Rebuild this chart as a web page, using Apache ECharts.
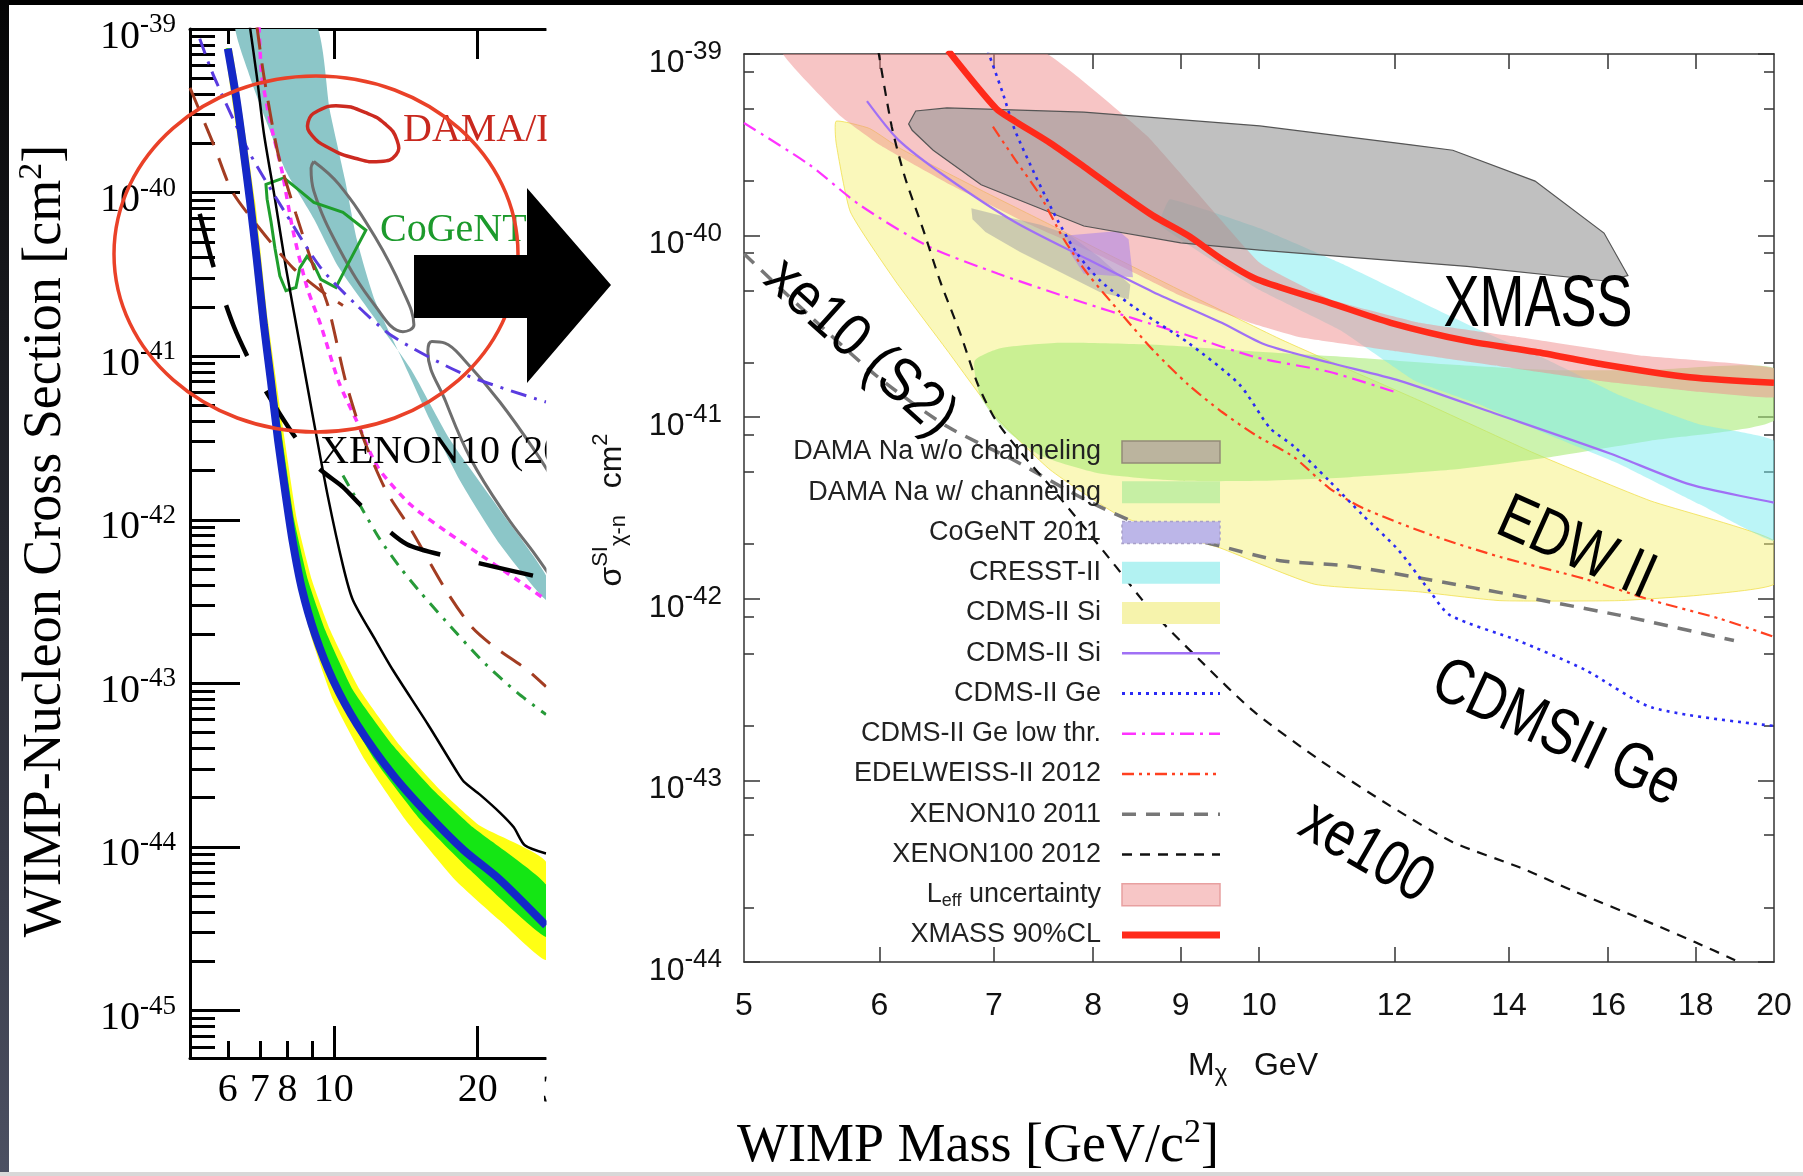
<!DOCTYPE html>
<html>
<head>
<meta charset="utf-8">
<script src="https://cdn.jsdelivr.net/npm/echarts@6/dist/echarts.min.js"></script>
<style>
html,body{margin:0;padding:0;background:#fff;}
#c{width:1803px;height:1176px;}
</style>
</head>
<body>
<div id="c"></div>
<script>
const LOG = Math.log10;

/* ================= LEFT PANEL (XENON100 2012 excerpt) =================
   points are [WIMP mass in GeV, log10(cross section / cm^2)] */
const leftMassRange = [5, 27.8];
const leftLogSigmaRange = [-45.29, -39];
const leftMassLabels = [6, 7, 8, 10, 20];
const leftMassMajorTicks = [10, 20];
const leftMassMinorTicks = [6, 7, 8, 9];
const leftDecades = [-45, -44, -43, -42, -41, -40, -39];

const x100Limit = [[6.0,-39.12],[6.24,-39.41],[6.45,-39.71],[6.67,-40.04],[6.90,-40.41],[7.14,-40.81],[7.39,-41.16],[7.64,-41.51],[7.94,-41.86],[8.21,-42.14],[8.57,-42.42],[9.13,-42.70],[9.96,-42.98],[11.18,-43.25],[13.30,-43.56],[15.73,-43.80],[18.71,-44.02],[22.26,-44.20],[27.8,-44.48]];
const x100Band2Upper = [[6.12,-39.12],[6.84,-40.05],[7.28,-40.78],[7.79,-41.40],[8.37,-42.0],[9.0,-42.37],[9.81,-42.67],[11.34,-43.04],[13.75,-43.38],[16.67,-43.65],[20.22,-43.87],[27.8,-44.09]];
const x100Band1Upper = [[6.06,-39.12],[6.78,-40.05],[7.21,-40.78],[7.71,-41.40],[8.26,-42.0],[8.83,-42.37],[9.58,-42.67],[10.96,-43.04],[13.30,-43.38],[16.12,-43.65],[19.55,-43.88],[27.8,-44.23]];
const x100Band1Lower = [[5.95,-39.12],[6.64,-40.05],[7.07,-40.78],[7.57,-41.40],[8.09,-42.0],[8.49,-42.37],[9.17,-42.73],[10.30,-43.10],[12.19,-43.47],[15.14,-43.83],[19.26,-44.14],[27.8,-44.55]];
const x100Band2Lower = [[5.92,-39.12],[6.58,-40.05],[7.0,-40.78],[7.46,-41.40],[7.98,-42.0],[8.37,-42.37],[9.0,-42.73],[9.96,-43.10],[11.62,-43.47],[14.09,-43.83],[17.92,-44.20],[22.26,-44.45],[27.8,-44.69]];
const x100Limit2011 = [[6.67,-38.98],[6.90,-39.29],[7.14,-39.64],[7.53,-40.04],[7.94,-40.46],[8.49,-40.93],[9.08,-41.40],[9.72,-41.86],[10.45,-42.28],[10.96,-42.49],[12.19,-42.73],[13.30,-42.92],[15.73,-43.25],[18.10,-43.54],[18.71,-43.60],[20.22,-43.68],[22.26,-43.79],[23.8,-43.88],[25.1,-43.99],[27.8,-44.04]];
const tealRegion = [[6.24,-38.95],[6.67,-39.29],[7.28,-39.59],[7.94,-39.87],[9.08,-40.16],[10.25,-40.46],[12.19,-40.77],[14.5,-41.08],[17.5,-41.51],[22.26,-41.94],[27.8,-42.34],[27.8,-42.49],[22.26,-42.15],[18.36,-41.76],[15.89,-41.39],[13.75,-40.99],[12.19,-40.66],[11.18,-40.29],[10.55,-39.92],[9.81,-39.50],[9.08,-38.95]];
const magentaLeft = [[6.97,-38.98],[7.07,-39.29],[7.39,-39.59],[7.79,-39.87],[8.21,-40.23],[8.79,-40.58],[9.39,-40.81],[10.25,-41.16],[11.18,-41.40],[12.37,-41.68],[14.5,-41.91],[17.16,-42.07],[20.41,-42.22],[24.28,-42.37],[27.8,-42.49]];
const brownLeftA = [[5.0,-39.36],[5.61,-39.71],[6.12,-39.99],[7.04,-40.23],[8.21,-40.46],[9.39,-40.60],[10.45,-40.69]];
const brownLeftB = [[6.90,-38.98],[7.14,-39.29],[7.64,-39.76],[8.33,-40.13],[9.08,-40.46],[9.72,-40.69],[10.6,-41.16],[11.56,-41.51],[12.85,-41.82],[14.5,-42.06],[17.16,-42.43],[19.36,-42.65],[21.52,-42.77],[25.47,-42.92],[27.8,-43.02]];
const purpleLeft = [[5.24,-39.06],[5.61,-39.29],[6.67,-39.76],[7.94,-40.13],[9.39,-40.46],[11.18,-40.69],[13.30,-40.88],[18.71,-41.11],[27.8,-41.28]];
const greenDashLeft = [[10.45,-41.73],[11.34,-41.91],[12.49,-42.12],[13.75,-42.29],[15.14,-42.44],[17.16,-42.62],[20.41,-42.86],[24.28,-43.06],[27.8,-43.19]];
const xenon10Left = [[5.24,-40.13],[5.61,-40.46],[6.18,-40.82],[6.97,-41.14],[8.06,-41.44],[9.27,-41.68],[10.45,-41.80],[11.56,-41.93],[14.22,-42.15],[18.36,-42.24],[19.74,-42.26],[27.8,-42.36]];
const cresstContourA = [[9.08,-39.81],[10.25,-39.95],[12.19,-40.27],[13.95,-40.60],[14.71,-40.81],[13.95,-40.85],[12.19,-40.69],[10.25,-40.34],[9.08,-39.99],[8.96,-39.85],[9.08,-39.81]];
const cresstContourB = [[29.7,-42.43],[26.5,-42.22],[23.0,-41.98],[19.36,-41.63],[17.16,-41.28],[15.73,-40.97],[16.04,-40.91],[17.08,-40.92],[18.71,-41.02],[22.26,-41.28],[26.5,-41.59],[29.7,-41.82]];
const damaContourLeft = [[8.83,-39.57],[9.27,-39.50],[10.30,-39.47],[11.62,-39.51],[12.8,-39.58],[13.56,-39.68],[13.49,-39.77],[12.49,-39.81],[11.07,-39.79],[9.81,-39.73],[9.0,-39.65]];
const cogentContourLeft = [[7.21,-39.95],[7.86,-39.91],[8.33,-39.97],[9.08,-40.06],[10.45,-40.12],[11.67,-40.23],[10.6,-40.46],[10.1,-40.58],[9.39,-40.53],[9.08,-40.44],[8.79,-40.39],[8.49,-40.46],[8.33,-40.58],[7.94,-40.60],[7.71,-40.51],[7.53,-40.34],[7.39,-40.18],[7.25,-40.04]];

/* ================= RIGHT PANEL (XMASS low-mass WIMP search) ================= */
const rightMassRange = [5, 20];
const rightLogSigmaRange = [-44, -39];
const rightMassLabels = [5, 6, 7, 8, 9, 10, 12, 14, 16, 18, 20];
const rightMassTicks = [6, 7, 8, 9, 10, 12, 14, 16, 18];
const rightDecades = [-44, -43, -42, -41, -40, -39];
const rightMinorMantissas = [2, 5, 8];

const leffBand = [[7.45,-38.98],[8.6,-39.45],[10.01,-40.15],[11.0,-40.35],[12.42,-40.48],[14.21,-40.56],[16.7,-40.66],[20,-40.73],[20,-40.89],[18.1,-40.86],[15.82,-40.80],[13.83,-40.72],[12.09,-40.64],[10.57,-40.56],[9.88,-40.48],[8.99,-40.33],[8.07,-40.11],[7.35,-39.94],[6.6,-39.72],[6.0,-39.50],[5.69,-39.34],[5.26,-38.98]];
const damaNoChanRegion = [[6.24,-39.385],[6.30,-39.314],[6.57,-39.297],[7.90,-39.32],[10.01,-39.396],[12.27,-39.50],[12.98,-39.53],[14.5,-39.70],[15.91,-39.986],[16.43,-40.22],[15.95,-40.25],[13.23,-40.17],[10.01,-40.08],[9.0,-40.04],[7.9,-39.947],[6.88,-39.72],[6.45,-39.53],[6.27,-39.42]];
const damaChanRegion = [[6.82,-40.69],[7.06,-40.62],[7.65,-40.59],[8.64,-40.60],[10.0,-40.64],[11.3,-40.67],[12.93,-40.71],[14.79,-40.74],[16.93,-40.74],[20,-40.73],[20,-41.02],[16.93,-41.13],[14.79,-41.22],[12.93,-41.29],[11.3,-41.33],[10.0,-41.35],[8.99,-41.35],[8.07,-41.31],[7.45,-41.21],[7.06,-41.04],[6.87,-40.88]];
const cresstRegion = [[8.87,-39.80],[10.01,-39.96],[11.15,-40.15],[12.34,-40.35],[13.46,-40.52],[14.79,-40.69],[16.26,-40.88],[18.1,-41.04],[20,-41.13],[20,-41.68],[18.1,-41.48],[16.26,-41.26],[14.79,-41.10],[13.46,-40.93],[12.34,-40.80],[11.15,-40.52],[10.01,-40.30],[8.75,-39.94]];
const cdmsSiRegion = [[5.66,-39.37],[5.92,-39.41],[6.17,-39.52],[6.88,-39.75],[7.55,-39.94],[8.07,-40.08],[8.99,-40.30],[10.29,-40.57],[11.3,-40.74],[12.42,-40.91],[14.5,-41.20],[16.93,-41.46],[20,-41.68],[20,-41.92],[18.1,-41.98],[16.23,-42.01],[13.83,-42.01],[12.35,-41.96],[10.78,-41.92],[9.49,-41.72],[9.09,-41.67],[8.28,-41.54],[7.55,-41.29],[7.04,-41.01],[6.57,-40.63],[6.13,-40.25],[5.77,-39.87],[5.66,-39.49]];
const cogentRegion = [[7.72,-40.0],[8.28,-39.975],[8.39,-40.02],[8.44,-40.23],[7.9,-40.21],[7.76,-40.10]];
const cogentGrayRegion = [[6.79,-39.85],[7.06,-39.89],[7.45,-39.94],[7.76,-40.0],[8.07,-40.12],[8.41,-40.27],[8.39,-40.35],[8.07,-40.31],[7.65,-40.20],[7.25,-40.09],[6.92,-39.98],[6.80,-39.91]];
const cdmsSiLimit = [[5.90,-39.26],[6.15,-39.47],[6.57,-39.68],[7.2,-39.925],[7.9,-40.12],[8.67,-40.31],[9.51,-40.48],[10.08,-40.60],[11.0,-40.70],[12.09,-40.80],[13.74,-40.98],[16.04,-41.20],[17.86,-41.37],[20,-41.47]];
const cdmsGeLimit = [[6.94,-38.98],[7.08,-39.21],[7.2,-39.42],[7.41,-39.68],[7.62,-39.91],[7.83,-40.10],[8.08,-40.25],[8.47,-40.40],[9.09,-40.59],[9.74,-40.82],[10.15,-41.06],[10.48,-41.16],[10.99,-41.35],[11.5,-41.54],[12.06,-41.73],[12.59,-41.96],[12.93,-42.09],[14.17,-42.23],[15.5,-42.39],[16.99,-42.60],[20,-42.70]];
const cdmsGeLowThr = [[5.0,-39.38],[5.46,-39.61],[5.84,-39.83],[6.41,-40.06],[7.04,-40.21],[7.9,-40.37],[8.47,-40.46],[9.09,-40.55],[9.96,-40.67],[10.99,-40.75],[12.0,-40.86]];
const edelweissLimit = [[6.99,-39.40],[7.2,-39.58],[7.45,-39.78],[7.69,-40.02],[7.94,-40.21],[8.29,-40.42],[8.67,-40.63],[9.09,-40.82],[9.51,-40.97],[9.96,-41.10],[10.48,-41.22],[10.99,-41.39],[11.5,-41.50],[12.62,-41.65],[13.84,-41.77],[15.5,-41.89],[16.99,-42.01],[18.6,-42.11],[20,-42.21]];
const xenon10Limit = [[5.0,-40.10],[5.46,-40.44],[5.99,-40.78],[6.57,-41.05],[7.2,-41.24],[7.9,-41.45],[8.67,-41.62],[9.4,-41.70],[10.29,-41.79],[11.29,-41.82],[13.54,-41.95],[16.23,-42.09],[18.95,-42.23]];
const xenon100Limit = [[5.99,-38.98],[6.10,-39.40],[6.21,-39.68],[6.36,-39.96],[6.51,-40.25],[6.69,-40.54],[6.85,-40.82],[7.01,-41.01],[7.25,-41.19],[7.55,-41.38],[7.91,-41.61],[8.26,-41.83],[8.64,-42.06],[9.24,-42.34],[9.93,-42.62],[10.86,-42.89],[11.93,-43.14],[12.98,-43.34],[14.21,-43.48],[15.28,-43.61],[16.99,-43.79],[17.98,-43.89],[18.98,-43.99]];
const xmassLimit = [[6.58,-38.98],[7.02,-39.30],[7.2,-39.37],[7.55,-39.49],[7.9,-39.62],[8.28,-39.76],[8.67,-39.89],[9.09,-40.0],[9.51,-40.13],[9.97,-40.24],[11.0,-40.37],[11.94,-40.48],[13.23,-40.58],[14.5,-40.64],[15.9,-40.71],[17.86,-40.78],[20,-40.81]];

/* ================= helpers ================= */
const SERIF = 'Liberation Serif';
const SANS = 'Liberation Sans';
const toXY = pts => pts.map(p => [LOG(p[0]), p[1]]);
const rev = a => a.slice().reverse();

function lineS(pts, axes, color, width, dash, z, smooth) {
  return {
    type: 'line', xAxisIndex: axes[0], yAxisIndex: axes[1], data: toXY(pts),
    showSymbol: false, symbol: 'none', smooth: smooth === undefined ? 0.25 : smooth,
    lineStyle: { color: color, width: width, type: dash || 'solid', cap: 'butt' },
    z: z || 3, silent: true, clip: true
  };
}
function polyS(pts, axes, style, z, smooth) {
  const data = toXY(pts);
  return {
    type: 'custom', xAxisIndex: axes[0], yAxisIndex: axes[1], data: data, clip: true,
    z: z || 1, silent: true,
    renderItem: function (params, api) {
      if (params.dataIndex !== 0) return;
      return {
        type: 'polygon',
        shape: { points: data.map(d => api.coord(d)), smooth: smooth || 0 },
        style: style
      };
    }
  };
}
const L = [0, 0];   // left grid axes
const R = [4, 2];   // right grid axes

function minorLogTicks(mants, lo, hi) {
  const out = [];
  for (let n = Math.floor(lo) - 1; n <= Math.ceil(hi); n++)
    mants.forEach(k => { const v = n + LOG(k); if (v > lo && v < hi) out.push(v); });
  return out;
}
const decadeFmt = v => '{b|10}{s|' + Math.round(v) + '}';
const massFmt = v => String(Math.round(Math.pow(10, v)));

function xAx(grid, pos, range, ticks, tickLen, lineOpt, labelOpt) {
  return {
    gridIndex: grid, type: 'value', position: pos, min: LOG(range[0]), max: LOG(range[1]),
    axisLine: lineOpt ? { show: true, onZero: false, lineStyle: lineOpt } : { show: false, onZero: false },
    axisTick: { show: true, inside: true, length: tickLen, customValues: ticks.map(LOG),
      lineStyle: { color: grid === 0 ? '#000' : '#333', width: grid === 0 ? 3 : 1.5 } },
    axisLabel: labelOpt || { show: false },
    splitLine: { show: false }
  };
}
function yAx(grid, pos, range, ticks, tickLen, lineOpt, labelOpt) {
  return {
    gridIndex: grid, type: 'value', position: pos, min: range[0], max: range[1],
    axisLine: lineOpt ? { show: true, onZero: false, lineStyle: lineOpt } : { show: false, onZero: false },
    axisTick: { show: true, inside: true, length: tickLen, customValues: ticks,
      lineStyle: { color: grid === 0 ? '#000' : '#333', width: grid === 0 ? 3 : 1.5 } },
    axisLabel: labelOpt || { show: false },
    splitLine: { show: false }
  };
}

const leftLine = { color: '#000', width: 3 };
const rightLine = { color: '#333', width: 1.5 };

const xAxis = [
  xAx(0, 'bottom', leftMassRange, leftMassMajorTicks, 32, leftLine, {
    show: true, customValues: leftMassLabels.map(LOG), formatter: massFmt,
    fontFamily: SERIF, fontSize: 40, color: '#000', margin: 12 }),
  xAx(0, 'bottom', leftMassRange, leftMassMinorTicks, 17, null),
  xAx(0, 'top', leftMassRange, leftMassMajorTicks, 30, leftLine),
  xAx(0, 'top', leftMassRange, leftMassMinorTicks, 15, null),
  xAx(1, 'bottom', rightMassRange, rightMassTicks, 15, rightLine, {
    show: true, customValues: rightMassLabels.map(LOG), formatter: massFmt,
    fontFamily: SANS, fontSize: 32, color: '#111', margin: 28 }),
  xAx(1, 'top', rightMassRange, rightMassTicks, 15, rightLine)
];
const yAxis = [
  yAx(0, 'left', leftLogSigmaRange, leftDecades, 50, leftLine, {
    show: true, customValues: leftDecades, formatter: decadeFmt, margin: 14,
    rich: { b: { fontFamily: SERIF, fontSize: 40, color: '#000', padding: [16, 0, 0, 0] },
            s: { fontFamily: SERIF, fontSize: 27, color: '#000', padding: [0, 0, 8, 0] } } }),
  yAx(0, 'left', leftLogSigmaRange, minorLogTicks([2,3,4,5,6,7,8,9], leftLogSigmaRange[0], leftLogSigmaRange[1]), 25, null),
  yAx(1, 'left', rightLogSigmaRange, rightDecades, 16, rightLine, {
    show: true, customValues: rightDecades, formatter: decadeFmt, margin: 22,
    rich: { b: { fontFamily: SANS, fontSize: 32, color: '#111', padding: [18, 0, 0, 0] },
            s: { fontFamily: SANS, fontSize: 26, color: '#111', padding: [0, 0, 4, 0] } } }),
  yAx(1, 'left', rightLogSigmaRange, minorLogTicks(rightMinorMantissas, -44, -39), 10, null),
  yAx(1, 'right', rightLogSigmaRange, rightDecades, 16, rightLine),
  yAx(1, 'right', rightLogSigmaRange, minorLogTicks(rightMinorMantissas, -44, -39), 10, null)
];

const series = [
  /* left panel */
  polyS(tealRegion, L, { fill: '#8cc6c8' }, 1, 0.2),
  polyS(x100Band2Upper.concat(rev(x100Band2Lower)), L, { fill: '#ffff14' }, 2, 0.15),
  polyS(x100Band1Upper.concat(rev(x100Band1Lower)), L, { fill: '#14e614' }, 2, 0.15),
  lineS(cresstContourA, L, '#6e6e6e', 3, 'solid', 3, 0.4),
  lineS(cresstContourB, L, '#6e6e6e', 3, 'solid', 3, 0.4),
  lineS(x100Limit2011, L, '#000', 2.5, 'solid', 4),
  lineS(magentaLeft, L, '#ff33ff', 3.5, [7, 6], 4),
  lineS(brownLeftA, L, '#a33d22', 3, [24, 14], 4),
  lineS(brownLeftB, L, '#a33d22', 3, [24, 14], 4),
  lineS(purpleLeft, L, '#5a3be0', 3, [16, 8, 3, 8], 4),
  lineS(greenDashLeft, L, '#279a38', 3, [12, 8, 3, 8], 4),
  lineS(xenon10Left, L, '#000', 4.5, [55, 40], 4),
  polyS(damaContourLeft, L, { fill: 'none', stroke: '#cc2a20', lineWidth: 3.5 }, 4, 0.5),
  polyS(cogentContourLeft, L, { fill: 'none', stroke: '#1f9e2c', lineWidth: 3 }, 4, 0),
  lineS(x100Limit, L, '#1428c8', 8, 'solid', 5),

  /* right panel */
  polyS(cdmsSiRegion, R, { fill: 'rgba(246,242,120,0.5)', stroke: 'rgba(240,220,60,0.7)', lineWidth: 1 }, 1, 0.15),
  polyS(damaChanRegion, R, { fill: 'rgba(170,235,120,0.6)' }, 1, 0.2),
  polyS(cresstRegion, R, { fill: 'rgba(120,235,240,0.5)' }, 1, 0.1),
  polyS(leffBand, R, { fill: 'rgba(240,140,140,0.5)' }, 1, 0.1),
  polyS(cogentGrayRegion, R, { fill: 'rgba(165,165,165,0.55)' }, 1, 0),
  polyS(cogentRegion, R, { fill: 'rgba(175,135,230,0.6)' }, 1, 0),
  polyS(damaNoChanRegion, R, { fill: 'rgba(150,150,150,0.6)', stroke: '#555', lineWidth: 1.2 }, 2, 0),
  lineS(cdmsSiLimit, R, '#a070f5', 2.2, 'solid', 3),
  lineS(cdmsGeLowThr, R, '#ff33ff', 2.2, [14, 6, 3, 6], 3),
  lineS(xenon10Limit, R, '#777', 3.5, [14, 10], 3),
  lineS(xenon100Limit, R, '#111', 2.2, [10, 8], 3),
  lineS(edelweissLimit, R, '#ff4020', 2.2, [12, 5, 3, 5, 3, 5], 3),
  lineS(cdmsGeLimit, R, '#2a2af5', 2.6, [3, 5], 3),
  lineS(xmassLimit, R, '#ff2a1a', 6.5, 'solid', 5)
];

/* ================= legend & annotations (graphic) ================= */
const legendItems = [
  { text: 'DAMA Na w/o channeling', kind: 'rect', fill: '#bbb49e', stroke: '#948a78' },
  { text: 'DAMA Na w/ channeling', kind: 'rect', fill: '#c6efa4' },
  { text: 'CoGeNT 2011', kind: 'rect', fill: '#bcb6e8', stroke: '#a8a0c8', dash: [3, 3] },
  { text: 'CRESST-II', kind: 'rect', fill: '#b2f2f2' },
  { text: 'CDMS-II Si', kind: 'rect', fill: '#f6f3ac' },
  { text: 'CDMS-II Si', kind: 'line', color: '#a070f5', width: 2.5 },
  { text: 'CDMS-II Ge', kind: 'line', color: '#2a2af5', width: 3, dash: [3, 5] },
  { text: 'CDMS-II Ge low thr.', kind: 'line', color: '#ff33ff', width: 2.5, dash: [14, 6, 3, 6] },
  { text: 'EDELWEISS-II 2012', kind: 'line', color: '#ff4020', width: 2.5, dash: [12, 5, 3, 5, 3, 5] },
  { text: 'XENON10 2011', kind: 'line', color: '#777', width: 3.5, dash: [14, 10] },
  { text: 'XENON100 2012', kind: 'line', color: '#111', width: 2.5, dash: [10, 8] },
  { text: '{n|L}{e|eff}{n| uncertainty}', kind: 'rect', fill: '#f7c6c6', stroke: '#e8a0a0' },
  { text: 'XMASS 90%CL', kind: 'line', color: '#ff2a1a', width: 7 }
];
const graphics = [];
const LEG_X = 1101, SW_X = 1122, SW_W = 98, LEG_Y0 = 452, LEG_DY = 40.25;
legendItems.forEach((it, i) => {
  const y = LEG_Y0 + i * LEG_DY;
  graphics.push({ type: 'text', x: LEG_X, y: y, z: 100, silent: true,
    style: { text: it.text, fontFamily: SANS, fontSize: 27, fill: '#222', align: 'right', verticalAlign: 'middle',
      rich: { n: { fontFamily: SANS, fontSize: 27, fill: '#222' }, e: { fontFamily: SANS, fontSize: 18, fill: '#222', padding: [12, 0, 0, 0] } } } });
  if (it.kind === 'rect') {
    graphics.push({ type: 'rect', z: 100, silent: true, shape: { x: SW_X, y: y - 11, width: SW_W, height: 22 },
      style: { fill: it.fill, stroke: it.stroke || null, lineWidth: it.stroke ? 1.5 : 0, lineDash: it.dash || null } });
  } else {
    graphics.push({ type: 'line', z: 100, silent: true, shape: { x1: SW_X, y1: y, x2: SW_X + SW_W, y2: y },
      style: { stroke: it.color, lineWidth: it.width, lineDash: it.dash || null } });
  }
});

const annotations = [
  { text: 'xe10 (S2)', x: 860, y: 348, rot: -42, size: 54, sy: 1.12 },
  { text: 'XMASS', x: 1538, y: 306, rot: 0, size: 54, sy: 1.35 },
  { text: 'EDW II', x: 1576, y: 549, rot: -24, size: 52, sy: 1.25 },
  { text: 'CDMSII Ge', x: 1556, y: 734, rot: -25, size: 52, sy: 1.25 },
  { text: 'xe100', x: 1366, y: 853, rot: -30, size: 52, sy: 1.25 }
];
annotations.forEach(a => graphics.push({
  type: 'text', x: a.x, y: a.y, rotation: a.rot * Math.PI / 180, scaleY: a.sy, z: 100, silent: true,
  style: { text: a.text, fontFamily: SANS, fontSize: a.size, fill: '#000', align: 'center', verticalAlign: 'middle' }
}));

// right panel axis titles
graphics.push({ type: 'text', x: 612, y: 510, rotation: Math.PI / 2, z: 100, silent: true,
  style: { text: '{a|σ}{sp|SI}{sb|χ-n}{a|   cm}{sp|2}', align: 'center', verticalAlign: 'middle',
    rich: { a: { fontFamily: SANS, fontSize: 32, fill: '#111' },
            sp: { fontFamily: SANS, fontSize: 22, fill: '#111', padding: [0, 0, 22, 0] },
            sb: { fontFamily: SANS, fontSize: 22, fill: '#111', padding: [14, 0, 0, 0] } } } });
graphics.push({ type: 'text', x: 1253, y: 1066, z: 100, silent: true,
  style: { text: '{a|M}{sb|χ}{a|   GeV}', align: 'center', verticalAlign: 'middle',
    rich: { a: { fontFamily: SANS, fontSize: 32, fill: '#111' },
            sb: { fontFamily: SANS, fontSize: 24, fill: '#111', padding: [16, 0, 0, 0] } } } });

// left panel labels (cut off by the crop of the excerpt)
graphics.push({ type: 'text', x: 403, y: 130, z: 80, silent: true,
  style: { text: 'DAMA/L', fontFamily: SERIF, fontSize: 40, fill: '#c8281e', align: 'left', verticalAlign: 'middle' } });
graphics.push({ type: 'text', x: 380, y: 230, z: 80, silent: true,
  style: { text: 'CoGeNT', fontFamily: SERIF, fontSize: 40, fill: '#1c9a2c', align: 'left', verticalAlign: 'middle' } });
graphics.push({ type: 'text', x: 320, y: 452, z: 80, silent: true,
  style: { text: 'XENON10 (20', fontFamily: SERIF, fontSize: 40, fill: '#000', align: 'left', verticalAlign: 'middle' } });
graphics.push({ type: 'text', x: 562, y: 1091, z: 80, silent: true,
  style: { text: '30', fontFamily: SERIF, fontSize: 40, fill: '#000', align: 'center', verticalAlign: 'middle' } });
// crop mask of the left excerpt
graphics.push({ type: 'rect', z: 90, silent: true, shape: { x: 546.5, y: 5, width: 42, height: 1167 }, style: { fill: '#fff' } });

// big red annotation ellipse and arrow
graphics.push({ type: 'ellipse', z: 100, silent: true, shape: { cx: 316, cy: 254, rx: 202, ry: 178 },
  style: { fill: 'none', stroke: '#ea4128', lineWidth: 3.5 } });
graphics.push({ type: 'polygon', z: 100, silent: true,
  shape: { points: [[414, 255], [527, 255], [527, 188], [611, 285], [527, 383], [527, 318], [414, 318]] },
  style: { fill: '#000' } });

// slide titles
graphics.push({ type: 'text', x: 46, y: 541, rotation: Math.PI / 2, z: 100, silent: true,
  style: { text: 'WIMP-Nucleon Cross Section [cm{sp|2}]', fontFamily: SERIF, fontSize: 54, fill: '#000',
    align: 'center', verticalAlign: 'middle',
    rich: { sp: { fontFamily: SERIF, fontSize: 34, fill: '#000', padding: [0, 0, 28, 0] } } } });
graphics.push({ type: 'text', x: 978, y: 1147, z: 100, silent: true,
  style: { text: 'WIMP Mass [GeV/c{sp|2}]', fontFamily: SERIF, fontSize: 54, fill: '#000',
    align: 'center', verticalAlign: 'middle',
    rich: { sp: { fontFamily: SERIF, fontSize: 34, fill: '#000', padding: [0, 0, 28, 0] } } } });

// slide frame
graphics.push({ type: 'rect', z: 200, silent: true, shape: { x: 0, y: 0, width: 1803, height: 5 }, style: { fill: '#000' } });
graphics.push({ type: 'rect', z: 200, silent: true, shape: { x: 0, y: 0, width: 9, height: 1176 },
  style: { fill: new echarts.graphic.LinearGradient(0, 0, 0, 1, [{ offset: 0, color: '#050505' }, { offset: 1, color: '#4c5062' }]) } });
graphics.push({ type: 'rect', z: 200, silent: true, shape: { x: 0, y: 1172, width: 1803, height: 4 }, style: { fill: '#d8d8d8' } });

const chart = echarts.init(document.getElementById('c'), null, { renderer: 'canvas' });
chart.setOption({
  backgroundColor: '#ffffff',
  animation: false,
  grid: [
    { left: 190, top: 29, width: 356, height: 1029 },
    { left: 744, top: 54, width: 1030, height: 908 }
  ],
  xAxis: xAxis,
  yAxis: yAxis,
  series: series,
  graphic: { elements: graphics }
});
</script>
</body>
</html>
